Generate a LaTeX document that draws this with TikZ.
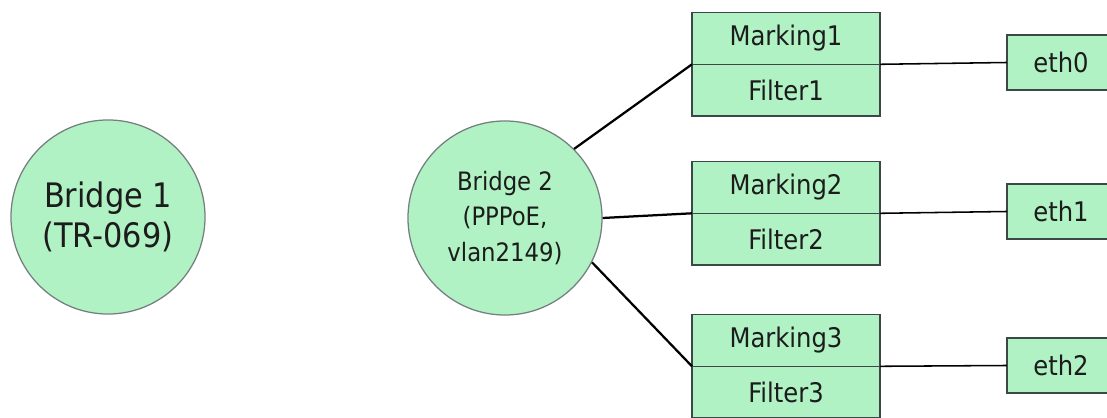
\documentclass[tikz,border=0pt]{standalone}
\usepackage{fontspec}
\setmainfont{DejaVu Sans Condensed}
\usepackage{tikz}
\usetikzlibrary{positioning}

\definecolor{bridgegreen}{RGB}{176,242,196}
\definecolor{edgegray}{RGB}{60,72,72}
\definecolor{textgray}{RGB}{28,28,28}

\begin{document}
\begin{tikzpicture}[x=0.025cm,y=-0.025cm,
  bridge/.style={circle,fill=bridgegreen,draw=edgegray!70,line width=0.9pt,minimum size=4.85cm,align=center,text=textgray,inner sep=0pt},
  halfbox/.style={rectangle,fill=bridgegreen,draw=edgegray,line width=1.1pt,minimum width=4.7cm,minimum height=1.29cm,outer sep=0pt,text=textgray,font=\fontsize{19.2}{22}\selectfont},
  ethbox/.style={rectangle,fill=bridgegreen,draw=edgegray,line width=1.1pt,minimum width=2.7cm,minimum height=1.375cm,outer sep=0pt,text=textgray,font=\fontsize{19.2}{22}\selectfont},
  thick link/.style={black,line width=1.6pt},
  thin link/.style={black,line width=1.1pt}]
\useasboundingbox (0,0) rectangle (1107,418);

\node[bridge,font=\fontsize{24}{29}\selectfont] (bridgeA) at (108,217) {Bridge 1\\(TR-069)};
\node[bridge,font=\fontsize{18}{25}\selectfont] (bridgeB) at (505,218) {Bridge 2\\(PPPoE,\\vlan2149)};

\node[halfbox] (mark1) at (786,38.5) {Marking1};
\node[halfbox,below=0pt of mark1] (filt1) {Filter1};
\node[halfbox] (mark2) at (786,187.5) {Marking2};
\node[halfbox,below=0pt of mark2] (filt2) {Filter2};
\node[halfbox] (mark3) at (786,340.5) {Marking3};
\node[halfbox,below=0pt of mark3] (filt3) {Filter3};

\node[ethbox] (eth0) at (1061,62.5) {eth0};
\node[ethbox] (eth1) at (1061,211.5) {eth1};
\node[ethbox] (eth2) at (1061,365.5) {eth2};

\draw[thick link] (bridgeB.45) -- (mark1.south west);
\draw[thick link] (bridgeB.east) -- (mark2.south west);
\draw[thick link] (bridgeB.-27) -- (mark3.south west);

\draw[thin link] (mark1.south east) -- (eth0.west);
\draw[thin link] (mark2.south east) -- (eth1.west);
\draw[thin link] (mark3.south east) -- (eth2.west);

\end{tikzpicture}
\end{document}
